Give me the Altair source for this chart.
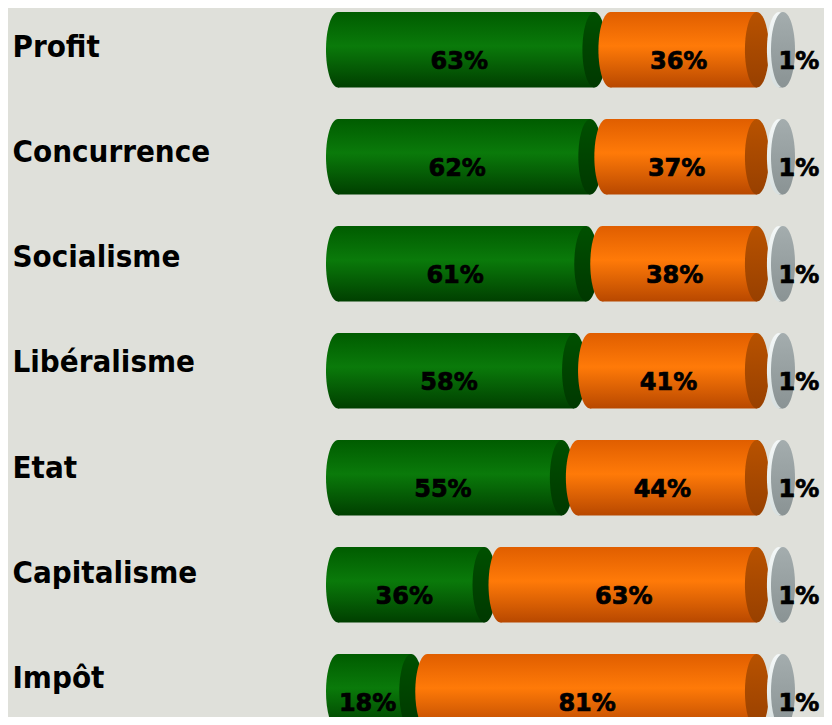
import altair as alt
import pandas as pd

categories = ["Profit", "Concurrence", "Socialisme", "Libéralisme", "Etat", "Capitalisme", "Impôt"]
oui = [63, 62, 61, 58, 55, 36, 18]
non = [36, 37, 38, 41, 44, 63, 81]
nsp = [1, 1, 1, 1, 1, 1, 1]
series_names = ["oui", "non", "nsp"]

rows = []
for i, c in enumerate(categories):
    s = 0
    for name, vals in zip(series_names, (oui, non, nsp)):
        v = vals[i]
        rows.append(dict(cat=c, series=name, start=s, end=s + v, mid=s + v / 2, label=f"{v}%"))
        s += v
df = pd.DataFrame(rows)


def grad(stops):
    return alt.Gradient(
        gradient="linear",
        stops=[alt.GradientStop(offset=o, color=c) for o, c in stops],
        x1=0, x2=0, y1=0, y2=1,
    )


styles = {
    "oui": dict(body=grad([(0, "#005c00"), (0.45, "#0a7a0a"), (1, "#003f00")]),
                left=grad([(0, "#005c00"), (0.45, "#0a7a0a"), (1, "#003f00")]),
                cap=grad([(0, "#005000"), (1, "#003800")]), off=0, dx=-7),
    "non": dict(body=grad([(0, "#e05e00"), (0.45, "#ff7a08"), (1, "#b84800")]),
                left=grad([(0, "#e05e00"), (0.45, "#ff7a08"), (1, "#b84800")]),
                cap=grad([(0, "#b85200"), (1, "#984000")]), off=16, dx=-5),
    "nsp": dict(body=grad([(0, "#c8d0d0"), (1, "#a0a8a8")]),
                left=grad([(0, "#f4f8f8"), (1, "#d8e0e0")]),
                cap=grad([(0, "#a4adae"), (1, "#8a9394")]), off=38, dx=18),
}

RY = 37.75
RX = 12
ellipse = f"M0,-1A{RX/RY:.4f},1,0,1,1,0,1A{RX/RY:.4f},1,0,1,1,0,-1Z"
SIZE = (2 * RY) ** 2

xscale = alt.Scale(domain=[0, 100], range=[0, 407])
yscale = alt.Scale(domain=categories, range=[0, 725.5], paddingInner=0.2944, paddingOuter=0.0374)

base = alt.Chart(df)
Y = alt.Y("cat:N", scale=yscale, axis=None, sort=categories)

layers = []
for name in series_names:
    st = styles[name]
    b = base.transform_filter(alt.datum.series == name)
    layers.append(b.mark_bar(color=st["body"], xOffset=st["off"], x2Offset=st["off"]).encode(
        x=alt.X("start:Q", scale=xscale, axis=None), x2="end:Q", y=Y))
    layers.append(b.mark_point(shape=ellipse, size=SIZE, filled=True, opacity=1, strokeWidth=0,
                               fill=st["left"], xOffset=st["off"]).encode(
        x=alt.X("start:Q", scale=xscale, axis=None), y=Y))
    layers.append(b.mark_point(shape=ellipse, size=SIZE, filled=True, opacity=1, strokeWidth=0,
                               fill=st["cap"], xOffset=st["off"]).encode(
        x=alt.X("end:Q", scale=xscale, axis=None), y=Y))

for name in series_names:
    st = styles[name]
    b = base.transform_filter(alt.datum.series == name)
    layers.append(b.mark_text(font="DejaVu Sans", fontWeight="bold", fontSize=24, color="black",
                              stroke="black", strokeWidth=0.7,
                              baseline="middle", align="center", dy=12, dx=st["dx"],
                              xOffset=st["off"]).encode(
        x=alt.X("mid:Q", scale=xscale, axis=None), y=Y, text="label:N"))

bars = alt.layer(*layers)

label_layer = alt.Chart(pd.DataFrame({"cat": categories})).mark_point(opacity=0).encode(
    y=alt.Y("cat:N", sort=categories,
            scale=alt.Scale(type="point", domain=categories, range=[39.5, 670.4], padding=0),
            axis=alt.Axis(title=None, ticks=False, tickSize=0, domain=False, grid=False,
                          labelAlign="left", labelPadding=326, labelFontSize=31,
                          labelFont="DejaVu Sans Condensed", labelFontWeight="bold",
                          labelColor="black", labelBaseline="middle", labelLimit=500))
)

chart = alt.layer(label_layer, bars).resolve_scale(y="independent").properties(
    width=486, height=709,
    autosize=alt.AutoSizeParams(type="none"),
    padding={"left": 330, "top": 0, "right": 0, "bottom": 0},
    background="#dfe0da",
).configure_view(stroke=None)

chart.save("out.html", embed_options={"renderer": "svg", "actions": False})
